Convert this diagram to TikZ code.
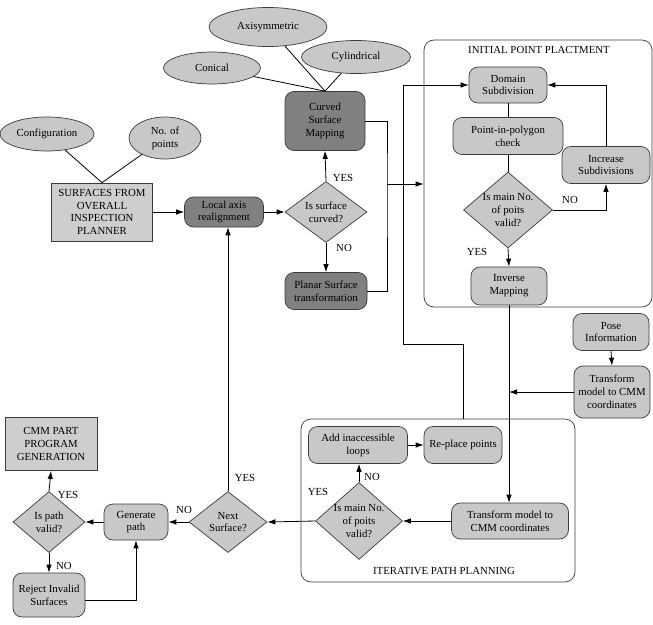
\documentclass[tikz,border=0pt]{standalone}
\usepackage{fontspec}
\setmainfont{Liberation Serif}
\usetikzlibrary{shapes.geometric,arrows.meta}
\definecolor{lg}{RGB}{200,200,200}
\definecolor{lgb}{RGB}{206,206,206}
\definecolor{dg}{RGB}{128,128,128}
\definecolor{bd}{RGB}{60,60,60}
\tikzset{
  every node/.style={font=\fontsize{10.8}{12.8}\selectfont, inner sep=1pt},
  ell/.style={ellipse, draw=bd, fill=lg, line width=0.7pt, inner sep=0pt},
  rbox/.style={rectangle, rounded corners=9pt, draw=bd, fill=lg, line width=0.7pt, align=center},
  dbox/.style={rbox, fill=dg},
  sbox/.style={rectangle, draw=bd, fill=lgb, line width=0.7pt, align=center},
  dec/.style={diamond, draw=bd, fill=lg, line width=0.7pt, inner sep=0pt},
  grp/.style={rectangle, rounded corners=10pt, draw=bd, fill=white, line width=0.7pt},
  conn/.style={draw=black, line width=0.8pt},
  arr/.style={conn, -{Latex[length=8pt,width=5.5pt]}},
  lbl/.style={inner sep=0pt}
}
\begin{document}
\begin{tikzpicture}[x=1pt,y=-1pt]
\useasboundingbox (0,0) rectangle (653,624);
% group boxes
\node[grp, minimum width=228, minimum height=267] (ipp) at (538,173.5) {};
\node[grp, minimum width=274, minimum height=163] (itp) at (438,500.5) {};
\node[lbl] (ippt) at (539,50) {INITIAL POINT PLACTMENT};
\node[lbl] (itpt) at (444,571) {ITERATIVE PATH PLANNING};

% ellipses
\node[ell, minimum width=118, minimum height=39] (axi) at (268,27) {Axisymmetric};
\node[ell, minimum width=109, minimum height=33] (cyl) at (356,57) {Cylindrical};
\node[ell, minimum width=97, minimum height=32] (con) at (212,68) {Conical};
\node[ell, minimum width=94, minimum height=34] (cfg) at (47,134) {Configuration};
\node[ell, minimum width=72, minimum height=42, align=center] (nop) at (165,138) {No. of\\points};

% main nodes
\node[sbox, minimum width=101, minimum height=58] (sfc) at (102,212) {SURFACES FROM\\OVERALL\\INSPECTION\\PLANNER};
\node[dbox, minimum width=79, minimum height=30] (la) at (224,212) {Local axis\\realignment};
\node[dec, minimum width=82, minimum height=61, label={[align=center]center:{Is surface\\curved?}}] (d1) at (326,212) {};
\node[dbox, minimum width=80, minimum height=59] (cm) at (325,121) {Curved\\Surface\\Mapping};
\node[dbox, minimum width=82, minimum height=37] (pl) at (326,291) {Planar Surface\\transformation};

% initial point placement
\node[rbox, minimum width=78, minimum height=36] (ds) at (508,85) {Domain\\Subdivision};
\node[rbox, minimum width=110, minimum height=37] (pic) at (508,136) {Point-in-polygon\\check};
\node[dec, minimum width=89, minimum height=76, label={[align=center]center:{Is main No.\\of poits\\valid?}}] (d2) at (508,210) {};
\node[rbox, minimum width=88, minimum height=37] (inc) at (606,165) {Increase\\Subdivisions};
\node[rbox, minimum width=76, minimum height=38] (im) at (509,286) {Inverse\\Mapping};

% pose
\node[rbox, minimum width=76, minimum height=37] (pose) at (611,332) {Pose\\Information};
\node[rbox, minimum width=76, minimum height=52] (tr1) at (612,392) {Transform\\model to CMM\\coordinates};

% iterative path planning
\node[rbox, minimum width=99, minimum height=37] (al) at (358,445) {Add inaccessible\\loops};
\node[rbox, minimum width=78, minimum height=37] (rp) at (463,445) {Re-place points};
\node[dec, minimum width=87, minimum height=77, label={[align=center]center:{Is main No.\\of poits\\valid?}}] (d3) at (359,521) {};
\node[rbox, minimum width=117, minimum height=36] (tr2) at (510,521) {Transform model to\\CMM coordinates};

% bottom left
\node[dec, minimum width=78, minimum height=61, label={[align=center]center:{Next\\Surface?}}] (ns) at (228,522) {};
\node[rbox, minimum width=64, minimum height=36] (gp) at (136,522) {Generate\\path};
\node[dec, minimum width=72, minimum height=61, label={[align=center]center:{Is path\\valid?}}] (d4) at (49,522) {};
\node[sbox, minimum width=92, minimum height=53] (cmm) at (51,444) {CMM PART\\PROGRAM\\GENERATION};
\node[rbox, minimum width=72, minimum height=44] (rej) at (49,595) {Reject Invalid\\Surfaces};

% coordinates
\coordinate (j1) at (387,184);
\coordinate (c2) at (403,344);

% connectors (undirected)
\draw[conn] (cfg) -- (sfc.north);
\draw[conn] (nop) -- (sfc.north);
\draw[conn] (con) -- (cm.north);
\draw[conn] (axi) -- (cm.north);
\draw[conn] (cyl) -- (cm.north);
\draw[conn] (cm.east) -| (j1) |- (pl.east);
\draw[conn] (ds.south) -- (pic.north);
\draw[conn] (pic.south) -- (d2.north);

% arrows
\draw[arr] (sfc.east) -- (la.west);
\draw[arr] (la.east) -- (d1.west);
\draw[arr] (d1.north) -- (cm.south);
\draw[arr] (d1.south) -- (pl.north);
\draw[arr] (j1) -- (ipp.west |- j1);
\draw[arr] (rp |- itp.north) |- (c2) |- (ds.west);
\draw[arr] (d2.east) -| (inc.south);
\draw[arr] (inc.north) |- (ds.east);
\draw[arr] (d2.south) -- (im.north);
\draw[arr] (im.south) -- (im.south |- tr2.north);
\draw[arr] (pose.south) -- (tr1.north);
\draw[arr] (tr1.west) -- (im.south |- tr1.west);
\draw[arr] (tr2.west) -- (d3.east);
\draw[arr] (d3.north) -- (d3.north |- al.south);
\draw[arr] (al.east) -- (rp.west);
\draw[arr] (d3.west) -- (ns.east);
\draw[arr] (ns.north) -- (ns.north |- la.south);
\draw[arr] (ns.west) -- (gp.east);
\draw[arr] (gp.west) -- (d4.east);
\draw[arr] (d4.north) -- (cmm.south);
\draw[arr] (d4.south) -- (rej.north);
\draw[arr] ([yshift=-5pt]rej.east) -| (gp.south);

% labels
\node[lbl] (y1) at (343,178) {YES};
\node[lbl] (n1) at (344,248) {NO};
\node[lbl] (n2) at (570,200) {NO};
\node[lbl] (y2) at (477,252) {YES};
\node[lbl] (n3) at (372,477) {NO};
\node[lbl] (y3) at (318,492) {YES};
\node[lbl] (y4) at (245,478) {YES};
\node[lbl] (n4) at (184,510) {NO};
\node[lbl] (y5) at (68,495) {YES};
\node[lbl] (n5) at (64,566) {NO};
\end{tikzpicture}
\end{document}
